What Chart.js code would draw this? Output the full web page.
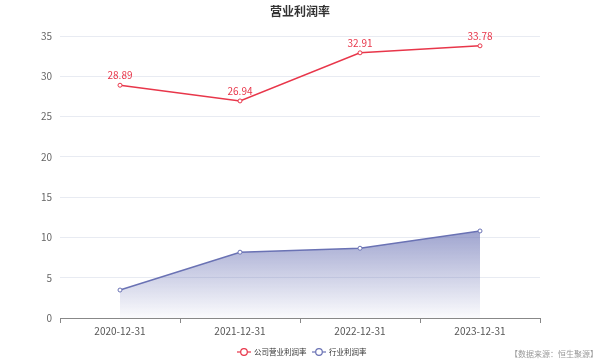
<!DOCTYPE html>
<html>
<head>
<meta charset="utf-8">
<script src="https://cdn.jsdelivr.net/npm/chart.js@4"></script>
<style>
  html, body { margin: 0; padding: 0; background: #fff; }
</style>
</head>
<body>
<canvas id="profitChart" width="600" height="360"></canvas>
<script>
const categories = ["2020-12-31", "2021-12-31", "2022-12-31", "2023-12-31"];
const companyMargin = [28.89, 26.94, 32.91, 33.78];
const industryMargin = [3.47, 8.17, 8.66, 10.8];
const yTicks = [0, 5, 10, 15, 20, 25, 30, 35];
const seriesNames = ["公司营业利润率", "行业利润率"];
const titleText = "营业利润率";
const sourceText = "【数据来源：恒生聚源】";

const RED = "#e8364a";
const BLUE = "#6a72b4";
const FONT = "'Noto Sans CJK SC', 'Noto Sans', sans-serif";

// labels above company points + title + legend
const decorations = {
  id: "decorations",
  afterDatasetsDraw(chart) {
    const ctx = chart.ctx;
    const meta = chart.getDatasetMeta(0);
    ctx.save();
    ctx.font = "10px " + FONT;
    ctx.fillStyle = RED;
    ctx.textAlign = "center";
    ctx.textBaseline = "bottom";
    meta.data.forEach((pt, i) => {
      ctx.fillText(companyMargin[i].toFixed(2), pt.x, pt.y - 5);
    });
    ctx.restore();
  },
  afterDraw(chart) {
    const ctx = chart.ctx;
    ctx.save();
    // title
    ctx.font = "bold 12px " + FONT;
    ctx.fillStyle = "#333";
    ctx.textAlign = "center";
    ctx.textBaseline = "middle";
    ctx.fillText(titleText, 300, 11);

    // legend
    const items = [
      { x: 237, color: RED, name: seriesNames[0] },
      { x: 312, color: BLUE, name: seriesNames[1] }
    ];
    ctx.font = "7.5px " + FONT;
    ctx.textAlign = "left";
    items.forEach(it => {
      const y = 352;
      ctx.strokeStyle = it.color;
      ctx.lineWidth = 1.2;
      ctx.beginPath();
      ctx.moveTo(it.x, y);
      ctx.lineTo(it.x + 14, y);
      ctx.stroke();
      ctx.beginPath();
      ctx.arc(it.x + 7, y, 3.3, 0, Math.PI * 2);
      ctx.fillStyle = "#fff";
      ctx.fill();
      ctx.stroke();
      ctx.fillStyle = "#333";
      ctx.fillText(it.name, it.x + 17, y);
    });

    // source note
    ctx.font = "8px " + FONT;
    ctx.fillStyle = "#999";
    ctx.textAlign = "right";
    ctx.fillText(sourceText, 598, 354);
    ctx.restore();
  }
};

const ctx = document.getElementById("profitChart").getContext("2d");
const grad = ctx.createLinearGradient(0, 230, 0, 318);
grad.addColorStop(0, "rgba(106,114,180,0.65)");
grad.addColorStop(1, "rgba(106,114,180,0.03)");

new Chart(ctx, {
  type: "line",
  data: {
    labels: categories,
    datasets: [
      {
        label: seriesNames[0],
        data: companyMargin,
        borderColor: RED,
        borderWidth: 1.5,
        pointRadius: 2,
        pointBorderWidth: 1,
        pointBackgroundColor: "#fff",
        pointBorderColor: RED,
        fill: false,
        tension: 0
      },
      {
        label: seriesNames[1],
        data: industryMargin,
        borderColor: BLUE,
        borderWidth: 1.5,
        pointRadius: 2,
        pointBorderWidth: 1,
        pointBackgroundColor: "#fff",
        pointBorderColor: BLUE,
        backgroundColor: grad,
        fill: "origin",
        tension: 0
      }
    ]
  },
  options: {
    responsive: false,
    animation: false,
    layout: { padding: { top: 36, right: 60, bottom: 0, left: 0 } },
    plugins: {
      legend: { display: false },
      title: { display: false },
      tooltip: { enabled: false }
    },
    scales: {
      x: {
        offset: true,
        afterFit: s => { s.height = 42; },
        grid: {
          offset: true,
          drawOnChartArea: false,
          drawTicks: true,
          tickLength: 5,
          color: "#888"
        },
        border: { color: "#888" },
        ticks: {
          autoSkip: false,
          color: "#555",
          font: { size: 10, family: FONT },
          maxRotation: 0,
          padding: 2
        }
      },
      y: {
        min: 0,
        max: 35,
        afterFit: s => { s.width = 60; },
        afterBuildTicks: s => { s.ticks = yTicks.map(v => ({ value: v })); },
        grid: { color: "#e8ebf2", drawTicks: false },
        border: { display: false },
        ticks: {
          autoSkip: false,
          color: "#666",
          font: { size: 10, family: FONT },
          padding: 8
        }
      }
    }
  },
  plugins: [decorations]
});
</script>
</body>
</html>
